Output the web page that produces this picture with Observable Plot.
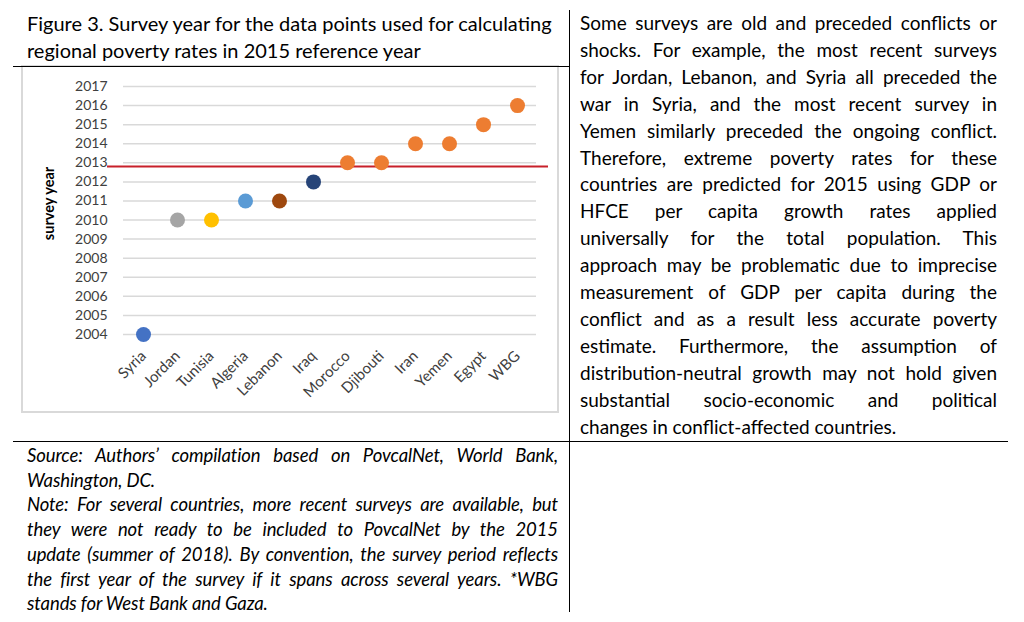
<!DOCTYPE html>
<html><head><meta charset="utf-8">
<script src="https://cdn.jsdelivr.net/npm/d3@7"></script>
<script src="https://cdn.jsdelivr.net/npm/@observablehq/plot@0.6"></script>
<style>
html,body{margin:0;padding:0;background:#fff;}
body{width:1024px;height:622px;position:relative;overflow:hidden;font-family:Lato,"Open Sans",sans-serif;color:#000;}
.abs{position:absolute;}
.hline{position:absolute;height:0;border-top:1px solid #000;}
.vline{position:absolute;width:0;border-left:1px solid #000;}
.j{text-align:justify;text-align-last:justify;}
.l{text-align:left;white-space:nowrap;}
#chartbox{position:absolute;left:21px;top:65px;width:534px;height:344px;border:2px solid #d9d9d9;background:#fff;}
#chartbox svg{display:block;}
</style></head><body>

<div class="abs" id="title" style="left:27px;top:10px;font-size:20px;line-height:27px;">
  <div class="l">Figure 3. Survey year for the data points used for calculating</div>
  <div class="l">regional poverty rates in 2015 reference year</div>
</div>

<div id="chartbox"></div>

<div class="hline" style="left:13px;top:66px;width:556px;"></div>
<div class="hline" style="left:13px;top:441px;width:995px;"></div>
<div class="vline" style="left:569px;top:10px;height:602px;"></div>

<div class="abs" id="body" style="left:580px;top:10px;width:417px;font-size:19px;line-height:26.9px;">
  <div class="j">Some surveys are old and preceded conflicts or</div>
  <div class="j">shocks. For example, the most recent surveys</div>
  <div class="j">for Jordan, Lebanon, and Syria all preceded the</div>
  <div class="j">war in Syria, and the most recent survey in</div>
  <div class="j">Yemen similarly preceded the ongoing conflict.</div>
  <div class="j">Therefore, extreme poverty rates for these</div>
  <div class="j">countries are predicted for 2015 using GDP or</div>
  <div class="j">HFCE per capita growth rates applied</div>
  <div class="j">universally for the total population. This</div>
  <div class="j">approach may be problematic due to imprecise</div>
  <div class="j">measurement of GDP per capita during the</div>
  <div class="j">conflict and as a result less accurate poverty</div>
  <div class="j">estimate. Furthermore, the assumption of</div>
  <div class="j">distribution-neutral growth may not hold given</div>
  <div class="j">substantial socio-economic and political</div>
  <div class="l">changes in conflict-affected countries.</div>
</div>

<div class="abs" id="source" style="left:27px;top:443px;width:531px;font-size:18.5px;letter-spacing:-0.1px;line-height:24.7px;font-style:italic;">
  <div class="j">Source: Authors’ compilation based on PovcalNet, World Bank,</div>
  <div class="l">Washington, DC.</div>
  <div class="j">Note: For several countries, more recent surveys are available, but</div>
  <div class="j">they were not ready to be included to PovcalNet by the 2015</div>
  <div class="j">update (summer of 2018). By convention, the survey period reflects</div>
  <div class="j">the first year of the survey if it spans across several years. *WBG</div>
  <div class="l">stands for West Bank and Gaza.</div>
</div>

<script>
const countries = ["Syria","Jordan","Tunisia","Algeria","Lebanon","Iraq","Morocco","Djibouti","Iran","Yemen","Egypt","WBG"];
const surveyYears = [2004,2010,2010,2011,2011,2012,2013,2013,2014,2014,2015,2016];
const pointColors = ["#4472C4","#A5A5A5","#FFC000","#5B9BD5","#9E480E","#264478","#ED7D31","#ED7D31","#ED7D31","#ED7D31","#ED7D31","#ED7D31"];
const yearTicks = [2004,2005,2006,2007,2008,2009,2010,2011,2012,2013,2014,2015,2016,2017];
const referenceLine = [2012.8];
const yAxisLabel = ["survey year"];

const data = countries.map((c, i) => ({country: c, year: surveyYears[i], color: pointColors[i]}));

const chart = Plot.plot({
  width: 534,
  height: 344,
  marginLeft: 100,
  marginRight: 21,
  marginTop: 19,
  marginBottom: 77,
  style: {fontFamily: "Lato, sans-serif", fontSize: "14px", color: "#404040", background: "#fff", overflow: "visible"},
  x: {type: "point", domain: countries, padding: 0.5},
  y: {domain: [yearTicks[0], yearTicks[yearTicks.length - 1]]},
  marks: [
    Plot.gridY(yearTicks, {stroke: "#d9d9d9", strokeOpacity: 1, strokeWidth: 1.5}),
    Plot.axisY({ticks: yearTicks, tickSize: 0, tickPadding: 16, tickFormat: d => String(d), label: null, fontSize: 14}),
    Plot.axisX({tickSize: 0, tickPadding: 19, tickRotate: -45, label: null, fontSize: 15}),
    Plot.text(yAxisLabel, {text: d => d, frameAnchor: "left", textAnchor: "middle", lineAnchor: "middle", rotate: -90, dx: -74, dy: -7, fontWeight: "bold", fontSize: 14.5, fill: "#000"}),
    Plot.ruleY(referenceLine, {stroke: "#C8202A", strokeWidth: 2, insetLeft: -16, insetRight: -12}),
    Plot.dot(data, {x: "country", y: "year", r: 7.5, fill: "color", stroke: "none"})
  ]
});
document.getElementById("chartbox").appendChild(chart);
</script>
</body></html>
